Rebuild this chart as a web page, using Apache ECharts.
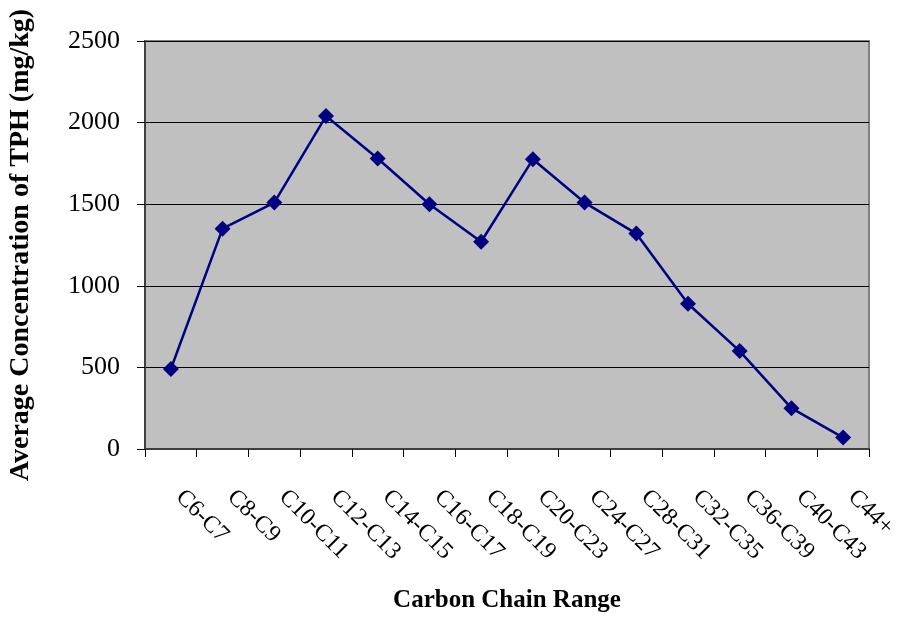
<!DOCTYPE html>
<html><head><meta charset="utf-8">
<script src="https://cdn.jsdelivr.net/npm/echarts@6/dist/echarts.min.js"></script>
<style>html,body{margin:0;padding:0;background:#fff}#c{width:897px;height:618px}</style>
</head><body><div id="c"></div>
<script>
const categories = ['C6-C7','C8-C9','C10-C11','C12-C13','C14-C15','C16-C17','C18-C19','C20-C23','C24-C27','C28-C31','C32-C35','C36-C39','C40-C43','C44+'];
const values = [490, 1350, 1510, 2040, 1780, 1500, 1270, 1775, 1510, 1320, 890, 600, 250, 70];
const yTicks = [0, 500, 1000, 1500, 2000, 2500];

const chart = echarts.init(document.getElementById('c'), null, {renderer: 'canvas'});
const font = '"Liberation Serif", "Times New Roman", serif';
chart.setOption({
  animation: false,
  grid: {left: 145, right: 28, top: 41, bottom: 169, outerBoundsMode: 'none', containLabel: false, show: true, backgroundColor: '#c0c0c0', borderColor: '#808080', borderWidth: 2},
  xAxis: {
    type: 'category', data: categories, boundaryGap: true,
    axisLine: {lineStyle: {color: '#404040', width: 2}},
    axisTick: {show: true, length: 8, lineStyle: {color: '#000', width: 1}},
    axisLabel: {rotate: -45, margin: 53, align: 'left', verticalAlign: 'bottom', fontFamily: font, fontSize: 24, color: '#000'},
    name: 'Carbon Chain Range', nameLocation: 'middle', nameGap: 139,
    nameTextStyle: {fontFamily: font, fontSize: 25, fontWeight: 'bold', color: '#000'}
  },
  yAxis: {
    type: 'value', min: yTicks[0], max: yTicks[yTicks.length-1], interval: 500,
    axisLine: {show: true, lineStyle: {color: '#404040', width: 2}},
    axisTick: {show: true, length: 8, lineStyle: {color: '#000', width: 1}},
    axisLabel: {fontFamily: font, fontSize: 26, color: '#000', margin: 25, formatter: v => String(v)},
    splitLine: {show: true, lineStyle: {color: '#000', width: 1}},
    name: 'Average Concentration of TPH (mg/kg)', nameLocation: 'middle', nameGap: 110,
    nameTextStyle: {fontFamily: font, fontSize: 28, fontWeight: 'bold', color: '#000'}
  },
  series: [{
    type: 'line', data: values,
    symbol: 'diamond', symbolSize: 16,
    lineStyle: {color: '#000080', width: 2.5},
    itemStyle: {color: '#000080'}
  }]
});
</script></body></html>
